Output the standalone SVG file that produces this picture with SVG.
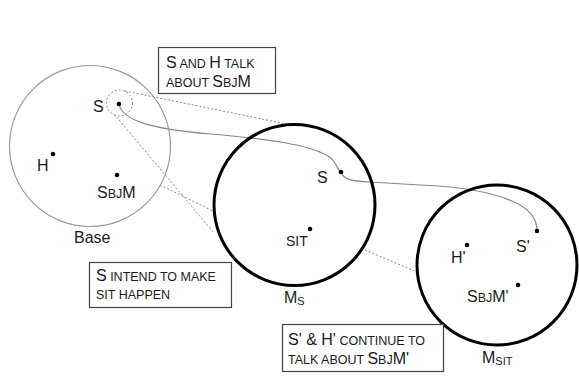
<svg xmlns="http://www.w3.org/2000/svg" width="579" height="376" viewBox="0 0 579 376">
<style>
text{font-family:"Liberation Sans",Arial,sans-serif;fill:#1a1a1a;font-size:16px}
.sc{font-size:12.5px}
.box{fill:#fff;stroke:#444;stroke-width:1.2}
.dot{fill:#000}
.thin{fill:none;stroke:#999;stroke-width:1.2}
.thick{fill:none;stroke:#000;stroke-width:3}
.curve{fill:none;stroke:#888;stroke-width:1.2}
.dash{fill:none;stroke:#888;stroke-width:1;stroke-dasharray:2,2}
</style>
<rect width="579" height="376" fill="#fff"/>
<g id="connectors">
<circle class="dash" cx="119.5" cy="103" r="13"/>
<line class="dash" x1="125" y1="91" x2="291" y2="125"/>
<line class="dash" x1="114" y1="114" x2="214" y2="233"/>
<line class="dash" x1="160" y1="185" x2="213" y2="211"/>
<line class="dash" x1="365" y1="250" x2="417" y2="272"/>
<path class="curve" d="M119,104 C122,120 150,129 210,134 C270,139 310,145 328,156 C338,162 336,170 341,172"/>
<path class="curve" d="M341,172 C344,180 352,181 370,182 L420,185 C470,187 500,194 520,205 C532,212 537,222 537,231"/>
</g>
<g id="base">
<circle class="thin" cx="90" cy="146" r="80.5"/>
<circle class="dot" cx="119" cy="104" r="2.3"/>
<text x="93" y="112">S</text>
<circle class="dot" cx="53" cy="154" r="2.3"/>
<text x="37" y="171">H</text>
<circle class="dot" cx="117" cy="175" r="2.3"/>
<text x="97" y="198">S<tspan class="sc">BJ</tspan>M</text>
<text x="74" y="243">Base</text>
</g>
<g id="ms">
<circle class="thick" cx="294.5" cy="205" r="80.5"/>
<circle class="dot" cx="341" cy="172" r="2.3"/>
<text x="317" y="183">S</text>
<circle class="dot" cx="310" cy="229" r="2.3"/>
<text x="286" y="246" style="font-size:14px">SIT</text>
<text x="284" y="303">M<tspan style="font-size:11px" dy="2">S</tspan></text>
</g>
<g id="msit">
<circle class="thick" cx="497" cy="265" r="80"/>
<circle class="dot" cx="537" cy="231" r="2.3"/>
<text x="516" y="252">S'</text>
<circle class="dot" cx="467" cy="245" r="2.3"/>
<text x="451" y="263">H'</text>
<circle class="dot" cx="518" cy="285" r="2.3"/>
<text x="467" y="302">S<tspan class="sc">BJ</tspan>M'</text>
<text x="482" y="363">M<tspan style="font-size:11px" dy="2">SIT</tspan></text>
</g>
<g id="box1">
<rect class="box" x="158.5" y="47.5" width="117" height="46"/>
<text x="166" y="68">S<tspan class="sc"> AND </tspan>H<tspan class="sc"> TALK</tspan></text>
<text x="166" y="87"><tspan class="sc">ABOUT </tspan>S<tspan class="sc">BJ</tspan>M</text>
</g>
<g id="box2">
<rect class="box" x="89.5" y="262.5" width="142" height="45"/>
<text x="96" y="281">S<tspan class="sc"> INTEND TO MAKE</tspan></text>
<text x="96" y="299" class="sc">SIT HAPPEN</text>
</g>
<g id="box3">
<rect class="box" x="282.5" y="324.5" width="161" height="47"/>
<text x="288" y="345">S' &amp; H'<tspan class="sc"> CONTINUE TO</tspan></text>
<text x="288" y="364"><tspan class="sc">TALK ABOUT </tspan>S<tspan class="sc">BJ</tspan>M'</text>
</g>
</svg>
